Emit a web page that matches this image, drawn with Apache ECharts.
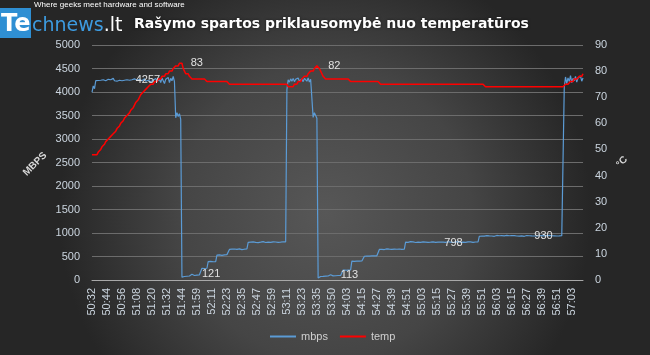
<!DOCTYPE html>
<html><head><meta charset="utf-8">
<script src="https://cdn.jsdelivr.net/npm/echarts@6/dist/echarts.min.js"></script>
<style>html,body{margin:0;padding:0;background:#333;}#c{width:650px;height:355px;}</style>
</head><body><div id="c"></div>
<script>
// ---- tick labels (x axis, one every 12 samples) ----
const tickLabels = ['50:32','50:44','50:56','51:08','51:20','51:32','51:44','51:59','52:11','52:23','52:35','52:47','52:59','53:11','53:23','53:35','53:50','54:03','54:15','54:27','54:39','54:51','55:03','55:15','55:27','55:39','55:51','56:03','56:15','56:27','56:39','56:51','57:03'];

// ---- mbps series, read piece by piece ----
const mbpsHigh1 = [3990,4130,4070,4240,4265,4245,4275,4250,4235,4260,
 4280,4240,4255,4270,4230,4260,4250,4290,4240,4260,
 4230,4270,4250,4265,4240,4280,4250,4257,4260,4270,
 4250,4240,4260,4230,4280,4250,4250,4230,4270,4260,
 4240,4250,4280,4230,4260,4250,4270,4220,4260,4250,
 4240,4290,4230,4250,4270,4200,4300,4320,4180,4270,
 4250,4310,4200,4290,4240,4330,4220];
const mbpsDrop1 = [3450,3560,3480,3540,3420];
const mbpsLow1 = [60,80,75,85,80,90,85,95,121,100,95,100,105,100,110,130,
 250,262,245,255,250,
 390,384,396,402,388,395,390,
 530,520,536,542,524,530,536,528,540,532,
 650,662,655,644,660,666,650,656,662,648,645,660,655,650,662,
 800,812,805,795,810,818,802,808,796,812,805,800,815,808,798,810,804,816,800,806,812,798,808,815,802,810,806,800,814,808,812];
const mbpsHigh2 = [4050,4260,4210,4280,4230,4290,4220,4270,4240,4300,4230,4260,4280,4220,4290,4250,4230,4300,4210,4270,4240];
const mbpsDrop2 = [3460,3560,3500,3440];
const mbpsLow2 = [40,70,75,80,78,85,82,88,85,90,113,92,88,95,90,96,96,100,98,105,
 210,215,208,218,212,216,214,
 400,405,398,410,402,406,400,408,404,410,
 505,512,508,515,506,510,514,508,512,506,515,510,
 650,658,652,660,648,655,662,650,656,660,652,648,658,662,654,650,660,656,652,658,655,
 805,812,800,808,815,802,810,806,798,812,
 804,816,800,808,812,802,806,814,800,810,
 805,798,812,798,802,815,806,800,806,810,
 804,812,800,808,814,802,806,810,798,812,
 805,800,815,808,802,810,806,814,800,808,
 812,804,810,806,800,814,808,802,810,
 930,942,936,948,932,940,945,934,938,950,
 936,944,930,940,948,935,942,938,946,932,
 940,936,950,934,942,938,946,930,944,940,
 936,948,934,942,938,945,930,932,946,936,
 942,938,938,944,936,948,940,934,942,938,
 946,936,940,932,944,938,948,936,942,934,
 940,946,936,942,938,930,944,940];
const mbpsHigh3 = [4100,4320,4180,4300,4220,4350,4200,4290,4240,4330,4210,4300,4260,4340,4230,4300];
const mbpsLabelIdx = [27,80,191,274,346];

// ---- temp series ----
const tempRise1 = [48,48,48,48,48,
 49,49,50,51,51,52,53,53,54,54,55,55,
 56,56,57,58,58,59,60,60,61,62,62,63,63,64,
 65,65,66,67,68,68,69,70,71,71,72,72,73,
 73,74,74,75,75,75,76,76,76,77,77,77,78,
 78,78,79,79,79,80,80,80,81,81,82,
 82,82,83,83,83];
const tempFall1Runs = [[81,1],[80,1],[79,3],[78,2],[77,12],[76,18],[75,47],[74,5]];
const tempRise2 = [75,75,75,76,76,76,77,77,78,78,78,79,79,80,80,80,81,81,82,82];
const tempFall2Runs = [[81,1],[80,1],[79,1],[78,2],[77,20],[76,24],[75,84],[74,64]];
const tempRise3 = [75,75,75,75,76,76,76,77,77,77,77,78,78,78,79];
const tempLabelIdx = [71,181];

// ---- build ----
const expand = runs => runs.flatMap(([v,n]) => Array(n).fill(v));
const mbps = [].concat(mbpsHigh1, mbpsDrop1, mbpsLow1, mbpsHigh2, mbpsDrop2, mbpsLow2, mbpsHigh3);
const temp = [].concat(tempRise1, expand(tempFall1Runs), tempRise2, expand(tempFall2Runs), tempRise3);

const toSec = s => { const p = s.split(':').map(Number); return p[0]*60 + p[1]; };
const fmt = t => Math.floor(t/60) + ':' + String(t%60).padStart(2,'0');
const categories = mbps.map((_, i) => {
  const k = Math.floor(i/12), r = i % 12;
  if (r === 0 && k < tickLabels.length) return tickLabels[k];
  const a = toSec(tickLabels[Math.min(k, tickLabels.length-1)]);
  const b = k+1 < tickLabels.length ? toSec(tickLabels[k+1]) : a + 12;
  return fmt(a + Math.round(r*(b-a)/12));
});
const withLabels = (arr, idx) => arr.map((v,i) => idx.includes(i) ? {value: v, label: {show: true}} : v);

const axisTxt = '#cbd5df';
const font = 'Liberation Sans, Arial, sans-serif';
const chart = echarts.init(document.getElementById('c'));
chart.setOption({
  animation: false,
  backgroundColor: {type:'radial', x:0.5, y:0.6, r:0.75,
    colorStops:[{offset:0,color:'#575757'},{offset:0.55,color:'#454545'},{offset:1,color:'#262626'}]},
  title: {text: 'Rašymo spartos priklausomybė nuo temperatūros', left: 129, top: 12,
    textStyle: {color:'#ffffff', fontSize: 14, fontWeight:'bold', fontFamily:'DejaVu Sans',
      textShadowColor:'rgba(0,0,0,0.6)', textShadowBlur:3}},
  graphic: [
    {type:'rect', shape:{x:0, y:8, width:31, height:30}, style:{fill:'#2f8fd3'}},
    {type:'text', x:1, y:37, style:{text:'Te', fill:'#ffffff', font:'bold 24px DejaVu Sans', verticalAlign:'bottom'}},
    {type:'text', x:32, y:36, style:{verticalAlign:'bottom',
      text:'{a|chnews}{b|.lt}',
      rich:{a:{fill:'#3d9be0', font:'19px DejaVu Sans', fontSize:19, fontFamily:'DejaVu Sans', color:'#3d9be0'},
            b:{fill:'#ffffff', font:'19px DejaVu Sans', fontSize:19, fontFamily:'DejaVu Sans', color:'#ffffff'}}}},
    {type:'text', x:34, y:1, style:{text:'Where geeks meet hardware and software', fill:'#ffffff', font:'8px Liberation Sans'}},
    {type:'text', x:35, y:164, rotation: Math.PI/4, style:{text:'MBPS', fill:'#d8d8d8', font:'bold 10px Liberation Sans', align:'center', verticalAlign:'middle'}},
    {type:'text', x:622, y:162, rotation: Math.PI/4, style:{text:'°C', fill:'#d8d8d8', font:'bold 10px Liberation Sans', align:'center', verticalAlign:'middle'}}
  ],
  legend: {left: 265, top: 326, itemWidth: 26, itemHeight: 2, icon: 'rect', itemGap: 12,
    textStyle: {color:'#d0d0d0', fontSize: 11, fontFamily: font},
    data: ['mbps','temp']},
  grid: {left: 92, right: 67, top: 45, bottom: 75},
  xAxis: {type:'category', data: categories, boundaryGap: false,
    axisLine: {lineStyle: {color:'#a8a8a8', width:1}},
    axisTick: {show:false},
    axisLabel: {interval: 11, rotate: 90, color: axisTxt, fontSize: 11, fontFamily: font, margin: 8}},
  yAxis: [
    {type:'value', min:0, max:5000, interval:500,
      axisLine:{show:false}, axisTick:{show:false},
      axisLabel:{color: axisTxt, fontSize: 11, fontFamily: font, margin: 12, formatter: v => String(v)},
      splitLine:{lineStyle:{color:'#6c6c6c', width:1}}},
    {type:'value', min:0, max:90, interval:10, position:'right',
      axisLine:{show:false}, axisTick:{show:false},
      axisLabel:{color: axisTxt, fontSize: 11, fontFamily: font, margin: 12, formatter: v => String(v)},
      splitLine:{show:false}}
  ],
  series: [
    {name:'mbps', type:'line', yAxisIndex:0, data: withLabels(mbps, mbpsLabelIdx),
      symbol:'circle', symbolSize:0.01, showSymbol:true, showAllSymbol:true,
      itemStyle:{color:'#5b9bd5'}, lineStyle:{color:'#5b9bd5', width:1.2},
      label:{show:false, position:'right', distance:10, color:'#e2e2e2', fontSize:11, fontFamily: font},
      emphasis:{disabled:true}},
    {name:'temp', type:'line', yAxisIndex:1, data: withLabels(temp, tempLabelIdx),
      symbol:'circle', symbolSize:0.01, showSymbol:true, showAllSymbol:true,
      itemStyle:{color:'#ff0000'}, lineStyle:{color:'#ff0000', width:1.5},
      label:{show:false, position:'right', distance:10, color:'#e2e2e2', fontSize:11, fontFamily: font},
      emphasis:{disabled:true}}
  ]
});
</script></body></html>
